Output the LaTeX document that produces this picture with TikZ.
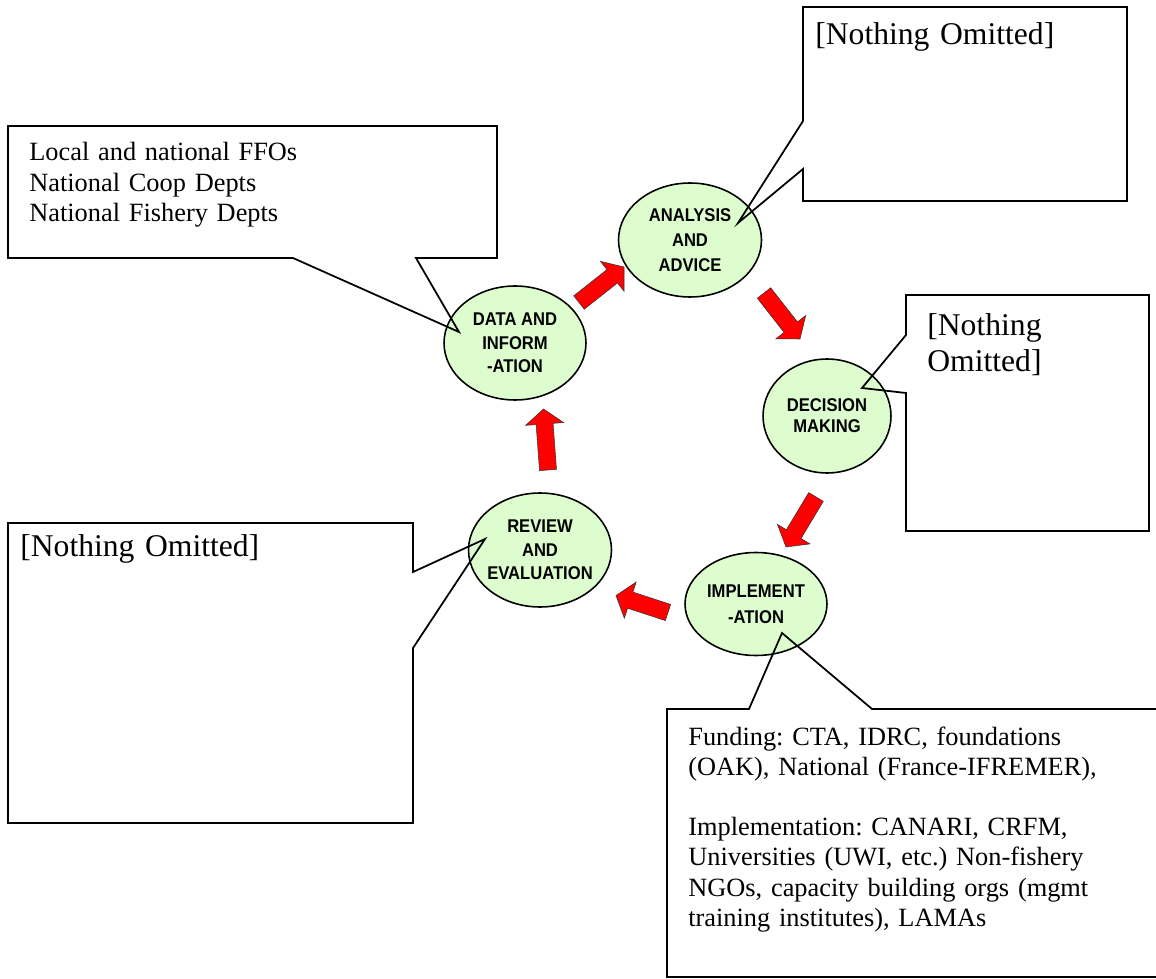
\documentclass[tikz,border=0pt]{standalone}
\usepackage{fontspec}
\setmainfont{Liberation Serif}
\newfontfamily\ellfont[FakeStretch=0.9]{Liberation Sans}
\usetikzlibrary{shapes.geometric,calc}
\definecolor{bubgreen}{HTML}{DDFDCF}
\definecolor{arrred}{HTML}{FF0000}
\frenchspacing
\tikzset{
  bub/.style={ellipse, draw=black, line width=0.9pt, fill=bubgreen, inner sep=0pt},
  etext/.style={align=center, inner sep=0pt, font=\ellfont\bfseries\fontsize{10.5pt}{13.5pt}\selectfont},
  callout/.style={draw=black, line width=1pt, line join=miter},
  ctext/.style={anchor=base west, inner sep=0pt, text width=12cm, align=left},
  smalltxt/.style={font=\frenchspacing\fontsize{15pt}{17.2pt}\selectfont},
  bigtxt/.style={font=\frenchspacing\fontsize{18pt}{20.4pt}\selectfont},
  arr/.style={fill=arrred, draw=black!80, line width=0.3pt, line join=miter},
}
\newcommand\blockarr[1]{%
  \coordinate (#1h) at ($(#1p)!0.30cm!(#1t)$);
  \draw[arr] ($(#1t)!0.17cm!90:(#1p)$) -- ($(#1h)!0.17cm!90:(#1p)$) -- ($(#1h)!0.38cm!90:(#1p)$) -- (#1p)
    -- ($(#1h)!0.38cm!-90:(#1p)$) -- ($(#1h)!0.17cm!-90:(#1p)$) -- ($(#1t)!0.17cm!-90:(#1p)$) -- cycle;}
\begin{document}
\begin{tikzpicture}[x=0.02cm,y=-0.02cm]
\useasboundingbox (0,0) rectangle (1156,979);
% ellipses
\node[bub, minimum width=2.84cm, minimum height=2.28cm,
  label={[etext]center:{DATA AND\\INFORM\\-ATION}}] (data) at (515,343) {};
\node[bub, minimum width=2.86cm, minimum height=2.28cm,
  label={[etext, font=\ellfont\bfseries\fontsize{10.5pt}{14.4pt}\selectfont]center:{ANALYSIS\\AND\\ADVICE}}] (anal) at (690,240) {};
\node[bub, minimum width=2.56cm, minimum height=2.28cm,
  label={[etext, font=\ellfont\bfseries\fontsize{10.5pt}{12pt}\selectfont]center:{DECISION\\MAKING}}] (deci) at (827,416) {};
\node[bub, minimum width=2.84cm, minimum height=2.06cm,
  label={[etext, font=\ellfont\bfseries\fontsize{10.5pt}{15pt}\selectfont]center:{IMPLEMENT\\-ATION}}] (impl) at (756,604) {};
\node[bub, minimum width=2.86cm, minimum height=2.28cm,
  label={[etext]center:{REVIEW\\AND\\EVALUATION}}] (revi) at (540,550) {};
% block arrows
\coordinate (a1t) at (579,302.5); \coordinate (a1p) at (624,267);
\coordinate (a2t) at (764,293);   \coordinate (a2p) at (800,339);
\coordinate (a3t) at (816,497);   \coordinate (a3p) at (786,547);
\coordinate (a4t) at (668,612.5); \coordinate (a4p) at (616,595.5);
\coordinate (a5t) at (548,470);   \coordinate (a5p) at (543.5,409);
\blockarr{a1}\blockarr{a2}\blockarr{a3}\blockarr{a4}\blockarr{a5}
% callout tips
\coordinate (dtip) at (459,332);
\coordinate (atip) at (738,223);
\coordinate (mtip) at (862,388);
\coordinate (rtip) at (485,539);
\coordinate (itip) at (782,633);
% callouts
\draw[callout] (8,126) -- (497,126) -- (497,258) -- (416,258) -- (dtip) -- (293,258) -- (8,258) -- cycle;
\draw[callout] (803,7) -- (1127,7) -- (1127,201) -- (803,201) -- (803,169) -- (atip) -- (803,121) -- cycle;
\draw[callout] (906,295) -- (1149,295) -- (1149,531) -- (906,531) -- (906,393) -- (mtip) -- (906,335) -- cycle;
\draw[callout] (8,523) -- (413,523) -- (413,572) -- (rtip) -- (413,648) -- (413,823) -- (8,823) -- cycle;
\draw[callout] (667,709) -- (749,709) -- (itip) -- (872,709) -- (1175,709) -- (1175,977) -- (667,977) -- cycle;
% callout texts
\node[ctext, smalltxt] (ffo) at (29,161) {Local and national FFOs\\National Coop Depts\\National Fishery Depts};
\node[ctext, bigtxt] (noa) at (815,45) {[Nothing Omitted]};
\node[ctext, bigtxt] (nod) at (927,336) {[Nothing\\Omitted]};
\node[ctext, bigtxt] (nor) at (20,557) {[Nothing Omitted]};
\node[ctext, smalltxt] (fund) at (688,745) {Funding: CTA, IDRC, foundations\\(OAK), National (France-IFREMER),\\[17.2pt]Implementation: CANARI, CRFM,\\Universities (UWI, etc.) Non-fishery\\NGOs, capacity building orgs (mgmt\\training institutes), LAMAs};
\end{tikzpicture}
\end{document}
